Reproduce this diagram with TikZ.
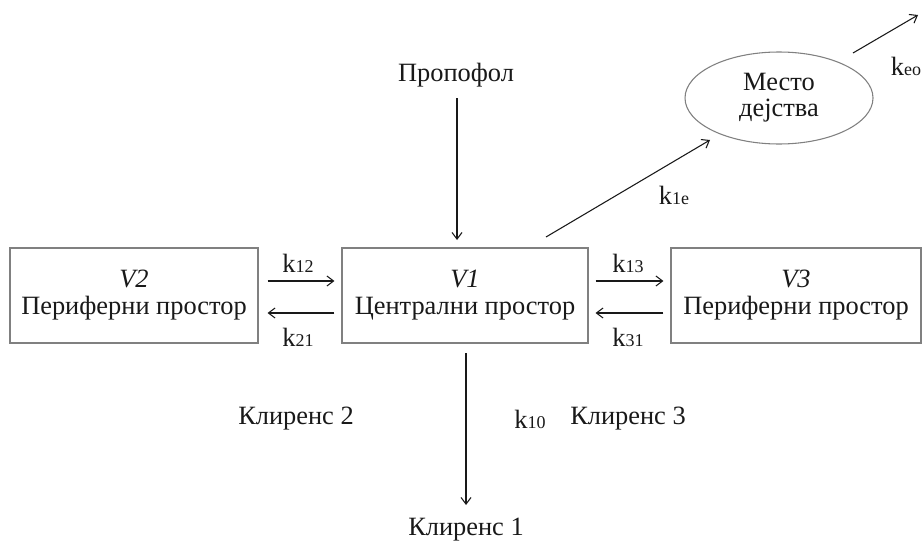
\documentclass[tikz,border=0pt]{standalone}
\usepackage{fontspec}
\setmainfont{Liberation Serif}
\usetikzlibrary{arrows.meta,shapes.geometric,calc}
\newcommand\kk[1]{k{\fontsize{13.5}{13.5}\selectfont #1}}
\newcommand\twolines[2]{\raisebox{-3.5pt}{\begin{tabular}{@{}c@{}}#1\\#2\end{tabular}}}
\begin{document}
\begin{tikzpicture}[x=0.75pt,y=-0.75pt,
  every node/.style={font=\fontsize{19.8}{20}\selectfont, text=black!90},
  box/.style={draw=black!50, line width=0.8pt, minimum height=71.25pt, inner sep=0pt, align=center},
  arr/.style={draw=black!90, line width=0.8pt, -{Straight Barb[length=5pt,width=7.5pt]}},
  lbl/.style={inner sep=1pt}]
\useasboundingbox (0,0) rectangle (923,542);
\fill[white] (0,0) rectangle (923,542);
% boxes
\node[box, minimum width=186pt] (v2) at (134,295.5) {\twolines{\textit{V2}}{Периферни простор}};
\node[box, minimum width=184.5pt] (v1) at (465,295.5) {\twolines{\textit{V1}}{Централни простор}};
\node[box, minimum width=187.5pt] (v3) at (796,295.5) {\twolines{\textit{V3}}{Периферни простор}};
\node[ellipse, draw=black!50, line width=0.8pt, minimum width=141pt, minimum height=69pt, inner sep=0pt, align=center] (site) at (779,98) {\twolines{Место}{дејства}};
% labels
\node (prop) at (456,75) {Пропофол};
\node (cl1) at (466,530) {Клиренс 1};
\node (cl2) at (296,419) {Клиренс 2};
\node (cl3) at (628,419) {Клиренс 3};
\node[lbl] (k10) at (530,419) {\kk{10}};
\node[lbl] (k12) at (298,263) {\kk{12}};
\node[lbl] (k21) at (298,337) {\kk{21}};
\node[lbl] (k13) at (628,263) {\kk{13}};
\node[lbl] (k31) at (628,337) {\kk{31}};
\node[lbl] (k1e) at (674,195) {\kk{1e}};
\node[lbl] (keo) at (906,66) {\kk{eo}};
% free ends
\coordinate (propA) at (457,98);
\coordinate (propB) at (457,240);
\coordinate (c10a) at (466,353);
\coordinate (c10b) at (466,505);
\coordinate (k1ea) at (546,237);
\coordinate (k1eb) at (710,140);
\coordinate (keoa) at (853,53);
\coordinate (keob) at (918,15);
% connectors
\draw[arr] (propA) -- (propB);
\draw[arr] (c10a) -- (c10b);
\draw[arr] (k1ea) -- (k1eb);
\draw[arr] (keoa) -- (keob);
\draw[arr] ($(v2.east)+(9,-14.5)$) -- ($(v1.west)+(-7,-14.5)$);
\draw[arr] ($(v1.west)+(-7,17.5)$) -- ($(v2.east)+(9,17.5)$);
\draw[arr] ($(v1.east)+(7,-14.5)$) -- ($(v3.west)+(-7,-14.5)$);
\draw[arr] ($(v3.west)+(-7,17.5)$) -- ($(v1.east)+(7,17.5)$);
\end{tikzpicture}
\end{document}
